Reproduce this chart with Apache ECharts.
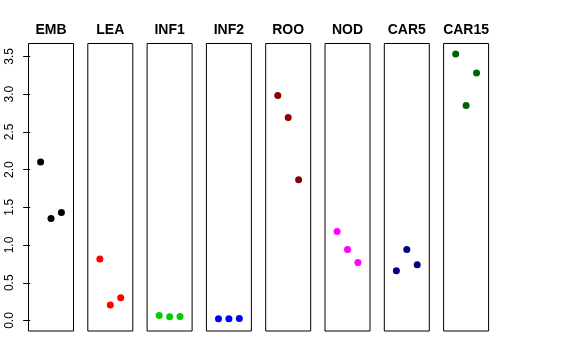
<!DOCTYPE html>
<html><head><meta charset="utf-8">
<script src="https://cdn.jsdelivr.net/npm/echarts@6/dist/echarts.min.js"></script>
<style>html,body{margin:0;padding:0;background:#fff}#c{width:576px;height:360px}</style>
</head><body><div id="c"></div>
<script>
var categories = ['EMB','LEA','INF1','INF2','ROO','NOD','CAR5','CAR15'];
var emb   = [2.10, 1.35, 1.43];
var lea   = [0.815, 0.205, 0.30];
var inf1  = [0.066, 0.05, 0.053];
var inf2  = [0.022, 0.022, 0.025];
var roo   = [2.98, 2.69, 1.865];
var nod   = [1.18, 0.94, 0.77];
var car5  = [0.66, 0.94, 0.74];
var car15 = [3.53, 2.85, 3.28];
var seriesValues = [emb, lea, inf1, inf2, roo, nod, car5, car15];
var colors = ['#000000','#FF0000','#00CD00','#0000FF','#8B0000','#FF00FF','#000080','#006400'];
var yTicks = [0, 0.5, 1, 1.5, 2, 2.5, 3, 3.5];

var grids = [], xAxes = [], yAxes = [], series = [];
categories.forEach(function(cat, i){
  grids.push({left: 28.5 + 59.3*i, top: 43.5, width: 45, height: 287.5,
    show: true, borderColor: '#000', borderWidth: 1, backgroundColor: 'transparent'});
  xAxes.push({type:'value', gridIndex:i, min:-0.16, max:4.16, position:'top',
    axisLine:{show:false}, axisTick:{show:false}, axisLabel:{show:false}, splitLine:{show:false},
    name: cat, nameLocation:'middle', nameGap: 6,
    nameTextStyle:{fontFamily:'Liberation Sans', fontWeight:'bold', fontSize:14, color:'#000'}});
  yAxes.push({type:'value', gridIndex:i, min:-0.139, max:3.67,
    show: i === 0,
    axisLine:{show:false},
    axisTick:{show:true, inside:false, length:7, customValues: yTicks, lineStyle:{color:'#000', width:1}},
    axisLabel:{show:true, rotate:90, margin:13, customValues: yTicks,
      formatter:function(v){return v.toFixed(1);},
      fontFamily:'Liberation Sans', fontSize:12, color:'#000'},
    splitLine:{show:false}});
  series.push({type:'scatter', xAxisIndex:i, yAxisIndex:i, symbol:'circle', symbolSize:7,
    itemStyle:{color:colors[i], opacity:1},
    data: seriesValues[i].map(function(v, j){return [j+1, v];}),
    animation:false});
});

var chart = echarts.init(document.getElementById('c'), null, {renderer:'canvas'});
chart.setOption({animation:false, grid:grids, xAxis:xAxes, yAxis:yAxes, series:series});
</script></body></html>
